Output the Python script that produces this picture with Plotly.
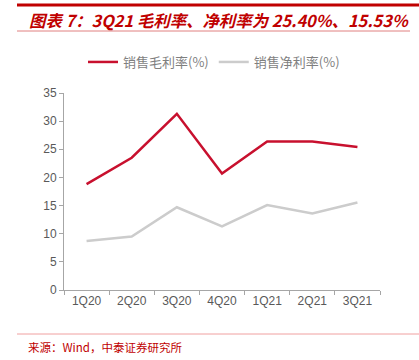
import plotly.graph_objects as go

categories = ["1Q20", "2Q20", "3Q20", "4Q20", "1Q21", "2Q21", "3Q21"]
gross_margin = [18.8, 23.5, 31.3, 20.7, 26.4, 26.4, 25.40]
net_margin = [8.7, 9.5, 14.7, 11.3, 15.1, 13.6, 15.53]
series_names = ["销售毛利率(%)", "销售净利率(%)"]
title_text = "图表 7：3Q21 毛利率、净利率为 25.40%、15.53%"
source_text = "来源：Wind，中泰证券研究所"

CJK = "Noto Sans CJK SC"
LAT = "Liberation Sans"

L, R, T, B = 64, 39, 93, 70
PW, PH = 419 - L - R, 360 - T - B


def px(x):
    return (x - L) / PW


def py(y):
    return (360 - B - y) / PH


fig = go.Figure()
fig.add_trace(go.Scatter(x=categories, y=gross_margin, mode="lines", name=series_names[0],
                         line=dict(color="#C8102E", width=2.5)))
fig.add_trace(go.Scatter(x=categories, y=net_margin, mode="lines", name=series_names[1],
                         line=dict(color="#CCCCCC", width=2.5)))

fig.update_layout(
    width=419, height=360,
    margin=dict(l=L, r=R, t=T, b=B, autoexpand=False),
    plot_bgcolor="white", paper_bgcolor="white",
    showlegend=True,
    legend=dict(orientation="h", x=px(214), xanchor="center", y=py(62), yanchor="middle",
                font=dict(family=CJK, size=13, color="#7F7F7F"),
                itemwidth=30, tracegroupgap=0),
    xaxis=dict(type="category", showgrid=False, showline=True, linecolor="#A6A6A6", linewidth=1,
               ticks="outside", tickson="boundaries", ticklen=4, tickcolor="#A6A6A6",
               tickfont=dict(family=LAT, size=12, color="#595959"), range=[-0.5, 6.5]),
    yaxis=dict(range=[0, 35], dtick=5, showgrid=False, zeroline=False, showline=True,
               linecolor="#A6A6A6", linewidth=1, ticks="outside", ticklen=4, tickcolor="#A6A6A6",
               tickfont=dict(family=LAT, size=12, color="#595959")),
)

fig.add_annotation(text="<b><i>" + title_text + "</i></b>", xref="paper", yref="paper",
                   x=px(27), y=py(20), xanchor="left", yanchor="middle",
                   showarrow=False, font=dict(family=CJK, size=16.4, color="#C00000"))
fig.add_annotation(text=source_text, xref="paper", yref="paper",
                   x=px(26), y=py(347), xanchor="left", yanchor="middle",
                   showarrow=False, font=dict(family=CJK, size=11.5, color="#C00000"))

# decorative rules
fig.add_shape(type="line", xref="paper", yref="paper", x0=px(17), x1=px(419),
              y0=py(5), y1=py(5), line=dict(color="#C00000", width=3))
fig.add_shape(type="line", xref="paper", yref="paper", x0=px(17), x1=px(410),
              y0=py(31), y1=py(31), line=dict(color="#E08080", width=1))
fig.add_shape(type="line", xref="paper", yref="paper", x0=px(17), x1=px(419),
              y0=py(334), y1=py(334), line=dict(color="#F0A0A0", width=1))

fig.write_html("out.html", config={"displayModeBar": False},
               post_script="document.body.style.margin='0';document.body.style.overflow='hidden';")
